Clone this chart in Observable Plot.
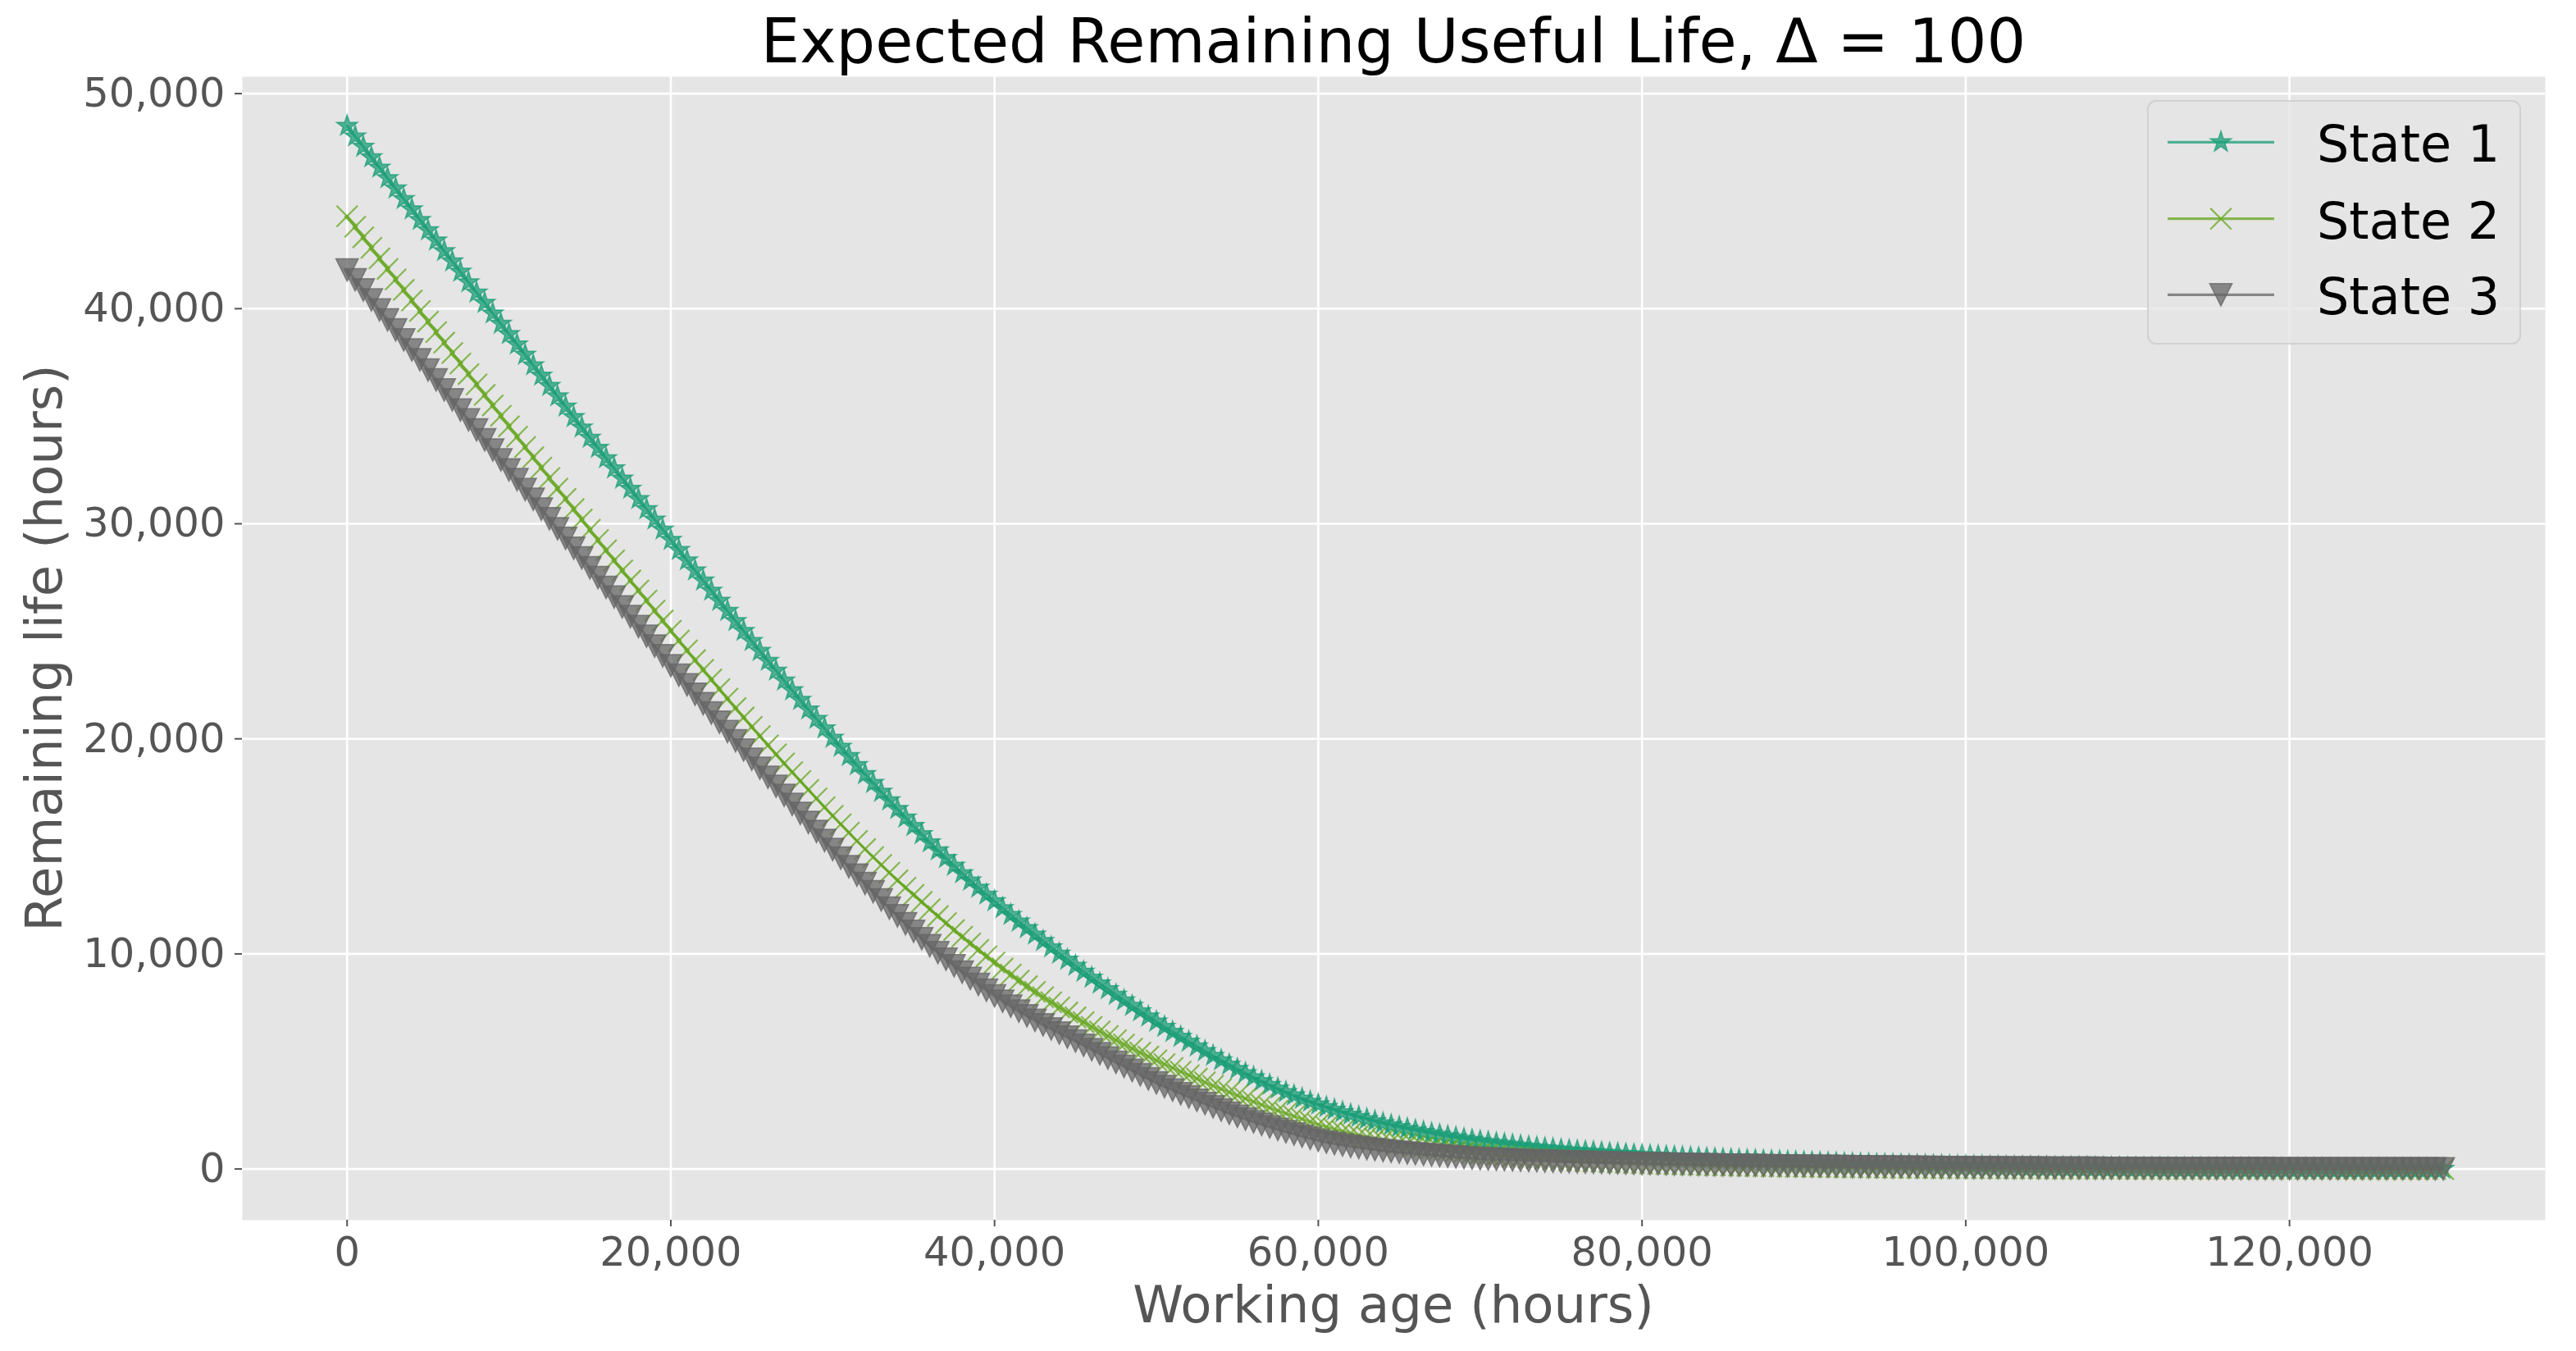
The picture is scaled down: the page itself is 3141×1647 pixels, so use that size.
<!DOCTYPE html>
<html>
<head>
<meta charset="utf-8">
<script src="https://cdn.jsdelivr.net/npm/d3@7"></script>
<script src="https://cdn.jsdelivr.net/npm/@observablehq/plot@0.6"></script>
<style>
html, body { margin: 0; padding: 0; background: #ffffff; }
#chart { width: 3141px; height: 1647px; }
#chart svg { display: block; }
</style>
</head>
<body>
<div id="chart"></div>
<script>
// ---------- data ----------
const chartTitle = "Expected Remaining Useful Life, \u0394 = 100";
const xLabel = "Working age (hours)";
const yLabel = "Remaining life (hours)";
const seriesNames = ["State 1", "State 2", "State 3"];
const xTicks = [0, 20000, 40000, 60000, 80000, 100000, 120000];
const yTicks = [0, 10000, 20000, 30000, 40000, 50000];
const ages = d3.range(0, 130000, 500); // working age grid (hours)

const state1 = [48500, 48010, 47530, 47040, 46560, 46070, 45590, 45100, 44620, 44130, 43650,
 43170, 42680, 42200, 41720, 41230, 40750, 40270, 39780, 39300, 38820,
 38340, 37860, 37370, 36890, 36410, 35930, 35450, 34960, 34480, 34000,
 33530, 33050, 32580, 32100, 31630, 31150, 30680, 30200, 29730, 29250,
 28780, 28300, 27830, 27360, 26890, 26420, 25950, 25480, 25020, 24550,
 24090, 23630, 23170, 22710, 22260, 21810, 21370, 20930, 20490, 20050,
 19630, 19200, 18780, 18360, 17950, 17540, 17140, 16740, 16340, 15950,
 15570, 15190, 14820, 14460, 14100, 13750, 13410, 13080, 12760, 12450,
 12130, 11815, 11505, 11200, 10900, 10600, 10305, 10015, 9730, 9450,
 9170, 8895, 8625, 8360, 8100, 7840, 7585, 7335, 7090, 6850,
 6610, 6375, 6145, 5920, 5700, 5480, 5265, 5055, 4850, 4650,
 4455, 4265, 4085, 3910, 3740, 3575, 3420, 3270, 3130, 3000,
 2875, 2755, 2640, 2530, 2425, 2320, 2220, 2125, 2035, 1950,
 1870, 1795, 1725, 1655, 1590, 1525, 1465, 1405, 1350, 1300,
 1252, 1206, 1162, 1120, 1080, 1040, 1002, 966, 932, 900,
 870, 842, 815, 789, 764, 739, 715, 693, 671, 650,
 629, 609, 589, 570, 551, 532, 514, 496, 478, 460,
 445, 430, 416, 402, 388, 374, 360, 346, 333, 320,
 308, 296, 285, 274, 263, 252, 241, 230, 220, 210,
 202, 194, 186, 178, 170, 163, 156, 149, 142, 135,
 130, 125, 120, 115, 110, 105, 100, 95, 90, 85,
 82, 79, 76, 73, 70, 67, 64, 61, 58, 55,
 53, 51, 49, 47, 45, 43, 41, 39, 37, 35,
 33, 31, 30, 28, 27, 25, 24, 22, 21, 20,
 19, 18, 17, 17, 16, 15, 14, 13, 13, 12,
 11, 10, 10, 9, 8, 7, 7, 6, 5];

const state2 = [44300, 43810, 43320, 42830, 42340, 41850, 41360, 40870, 40380, 39890, 39400,
 38910, 38420, 37940, 37450, 36960, 36480, 35990, 35500, 35020, 34530,
 34050, 33570, 33090, 32610, 32130, 31640, 31160, 30680, 30200, 29720,
 29240, 28770, 28300, 27830, 27360, 26900, 26430, 25960, 25500, 25030,
 24570, 24110, 23660, 23210, 22760, 22310, 21870, 21430, 20990, 20560,
 20130, 19700, 19280, 18860, 18450, 18040, 17630, 17230, 16820, 16420,
 16030, 15640, 15250, 14870, 14500, 14140, 13780, 13420, 13080, 12750,
 12420, 12080, 11760, 11430, 11110, 10800, 10490, 10190, 9890, 9600,
 9320, 9040, 8760, 8500, 8240, 7990, 7750, 7510, 7280, 7050,
 6830, 6610, 6400, 6190, 5990, 5790, 5600, 5410, 5230, 5050,
 4870, 4700, 4530, 4360, 4200, 4030, 3870, 3720, 3570, 3420,
 3272, 3127, 2986, 2848, 2713, 2581, 2451, 2323, 2196, 2070,
 1958, 1853, 1755, 1663, 1576, 1494, 1416, 1342, 1270, 1200,
 1140, 1083, 1029, 978, 928, 880, 833, 788, 743, 700,
 664, 631, 600, 571, 543, 516, 490, 465, 442, 420,
 402, 385, 368, 352, 336, 320, 305, 290, 275, 260,
 250, 240, 230, 220, 210, 200, 190, 180, 170, 160,
 154, 148, 142, 136, 130, 124, 118, 112, 106, 100,
 96, 92, 88, 84, 80, 76, 72, 68, 64, 60,
 58, 55, 53, 50, 48, 46, 43, 41, 38, 36,
 35, 33, 32, 30, 29, 28, 26, 25, 23, 22,
 21, 20, 19, 18, 17, 16, 15, 14, 14, 13,
 12, 12, 11, 11, 10, 10, 9, 9, 8, 8,
 8, 7, 7, 7, 6, 6, 6, 5, 5, 5,
 5, 4, 4, 4, 4, 4, 3, 3, 3, 3,
 3, 3, 2, 2, 2, 2, 1, 1, 1];

const state3 = [41800, 41340, 40870, 40410, 39940, 39480, 39010, 38550, 38080, 37620, 37150,
 36690, 36220, 35760, 35290, 34830, 34360, 33900, 33430, 32970, 32500,
 32050, 31590, 31140, 30680, 30230, 29770, 29320, 28860, 28410, 27950,
 27500, 27040, 26590, 26130, 25680, 25220, 24770, 24310, 23860, 23400,
 22960, 22510, 22070, 21630, 21200, 20770, 20340, 19910, 19480, 19050,
 18630, 18210, 17790, 17370, 16950, 16530, 16110, 15690, 15270, 14850,
 14450, 14050, 13660, 13270, 12890, 12510, 12130, 11770, 11400, 11050,
 10710, 10380, 10060, 9750, 9450, 9150, 8860, 8580, 8310, 8050,
 7800, 7570, 7340, 7120, 6910, 6700, 6510, 6320, 6130, 5950,
 5750, 5550, 5360, 5160, 4960, 4770, 4580, 4380, 4190, 4000,
 3830, 3670, 3500, 3350, 3190, 3040, 2890, 2740, 2590, 2450,
 2320, 2194, 2072, 1954, 1840, 1730, 1624, 1522, 1424, 1330,
 1250, 1178, 1112, 1052, 998, 948, 902, 860, 820, 780,
 744, 710, 678, 647, 617, 588, 560, 533, 506, 480,
 464, 449, 434, 420, 406, 392, 379, 366, 353, 340,
 331, 322, 313, 304, 295, 286, 277, 268, 259, 250,
 243, 236, 229, 222, 215, 208, 201, 194, 187, 180,
 175, 170, 165, 160, 155, 150, 145, 140, 135, 130,
 126, 122, 118, 114, 110, 106, 102, 98, 94, 90,
 87, 84, 81, 78, 75, 72, 69, 66, 63, 60,
 58, 56, 54, 52, 50, 48, 46, 44, 42, 40,
 39, 37, 36, 34, 33, 32, 30, 29, 27, 26,
 25, 24, 23, 22, 21, 21, 20, 19, 18, 17,
 16, 16, 15, 14, 14, 13, 13, 12, 12, 11,
 11, 10, 10, 9, 9, 9, 8, 8, 7, 7,
 7, 6, 6, 6, 5, 5, 5, 4, 4];

// ---------- styles ----------
const colors = ["#1b9e77", "#66a61e", "#666666"];
const markerKinds = ["star", "x", "tridown"];
const markerR = [13.2, 12.85, 13.6];

function makeSymbol(kind) {
  return {
    draw(ctx, size) {
      const R = Math.sqrt(size / Math.PI);
      if (kind === "star") {
        for (let k = 0; k < 10; k++) {
          const a = -Math.PI / 2 + k * Math.PI / 5;
          const rr = k % 2 === 0 ? R : R * 0.381966;
          const px = rr * Math.cos(a), py = rr * Math.sin(a);
          if (k === 0) ctx.moveTo(px, py); else ctx.lineTo(px, py);
        }
        ctx.closePath();
      } else if (kind === "x") {
        ctx.moveTo(-R, -R); ctx.lineTo(R, R);
        ctx.moveTo(-R, R); ctx.lineTo(R, -R);
      } else {
        ctx.moveTo(0, R); ctx.lineTo(-R, -R); ctx.lineTo(R, -R); ctx.closePath();
      }
    }
  };
}
const symbols = markerKinds.map(makeSymbol);

const allSeries = [state1, state2, state3].map((vals, s) =>
  ages.map((a, i) => ({age: a, life: vals[i], state: seriesNames[s]})));

const seriesMarks = [];
allSeries.forEach((d, s) => {
  seriesMarks.push(Plot.line(d, {x: "age", y: "life", stroke: colors[s], strokeWidth: 3.2, strokeOpacity: 0.75}));
  const isX = markerKinds[s] === "x";
  seriesMarks.push(Plot.dot(d, {
    x: "age", y: "life", symbol: symbols[s], r: markerR[s],
    fill: isX ? "none" : colors[s], fillOpacity: 0.75,
    stroke: colors[s], strokeOpacity: 0.75, strokeWidth: isX ? 2.2 : 1.6
  }));
});

const fmt = d3.format(",");
const plot = Plot.plot({
  width: 3141,
  height: 1647,
  marginTop: 93,
  marginRight: 38,
  marginBottom: 160,
  marginLeft: 295,
  style: {fontFamily: "'DejaVu Sans', sans-serif", fontSize: "49.5px", color: "#555555", background: "#ffffff", overflow: "visible"},
  x: {domain: [-6471, 135800], ticks: xTicks, tickFormat: fmt, label: null},
  y: {domain: [-2380, 50786], ticks: yTicks, tickFormat: fmt, label: null},
  marks: [
    Plot.frame({fill: "#E5E5E5", stroke: "none"}),
    Plot.gridX(xTicks, {stroke: "#ffffff", strokeOpacity: 1, strokeWidth: 2.6}),
    Plot.gridY(yTicks, {stroke: "#ffffff", strokeOpacity: 1, strokeWidth: 2.6}),
    Plot.axisX(xTicks, {tickSize: 8, tickPadding: 12, strokeWidth: 2, fontSize: 49.5, tickFormat: fmt, label: null}),
    Plot.axisY(yTicks, {tickSize: 9, tickPadding: 12, strokeWidth: 2, fontSize: 49.5, tickFormat: fmt, label: null}),
    ...seriesMarks
  ]
});

const svg = d3.select(plot);
const panelCx = (295 + 3103) / 2;
const panelCy = (93 + 1487) / 2;

svg.append("text").attr("x", panelCx).attr("y", 76).attr("text-anchor", "middle")
  .attr("font-size", 75).attr("fill", "#000000").text(chartTitle);
svg.append("text").attr("x", panelCx).attr("y", 1612).attr("text-anchor", "middle")
  .attr("font-size", 62.5).attr("fill", "#555555").text(xLabel);
svg.append("text").attr("transform", `translate(75,${panelCy}) rotate(-90)`).attr("text-anchor", "middle")
  .attr("font-size", 62.5).attr("fill", "#555555").text(yLabel);

// legend
const lg = svg.append("g");
lg.append("rect").attr("x", 2619).attr("y", 123).attr("width", 454).attr("height", 296).attr("rx", 10)
  .attr("fill", "#E5E5E5").attr("fill-opacity", 0.8).attr("stroke", "#cccccc").attr("stroke-opacity", 0.8).attr("stroke-width", 2);
const rowY = [173.3, 266.7, 359.3];
seriesNames.forEach((name, s) => {
  const y = rowY[s];
  lg.append("line").attr("x1", 2643).attr("x2", 2773).attr("y1", y).attr("y2", y)
    .attr("stroke", colors[s]).attr("stroke-width", 3.2).attr("stroke-opacity", 0.75);
  const isX = markerKinds[s] === "x";
  lg.append("path").attr("transform", `translate(2708,${y})`)
    .attr("d", d3.symbol(symbols[s], Math.PI * markerR[s] * markerR[s])())
    .attr("fill", isX ? "none" : colors[s]).attr("fill-opacity", 0.75)
    .attr("stroke", colors[s]).attr("stroke-opacity", 0.75).attr("stroke-width", isX ? 2.2 : 1.6);
  lg.append("text").attr("x", 2825).attr("y", y + 24).attr("text-anchor", "start")
    .attr("font-size", 62).attr("fill", "#000000").text(name);
});

document.getElementById("chart").appendChild(plot);
</script>
</body>
</html>
